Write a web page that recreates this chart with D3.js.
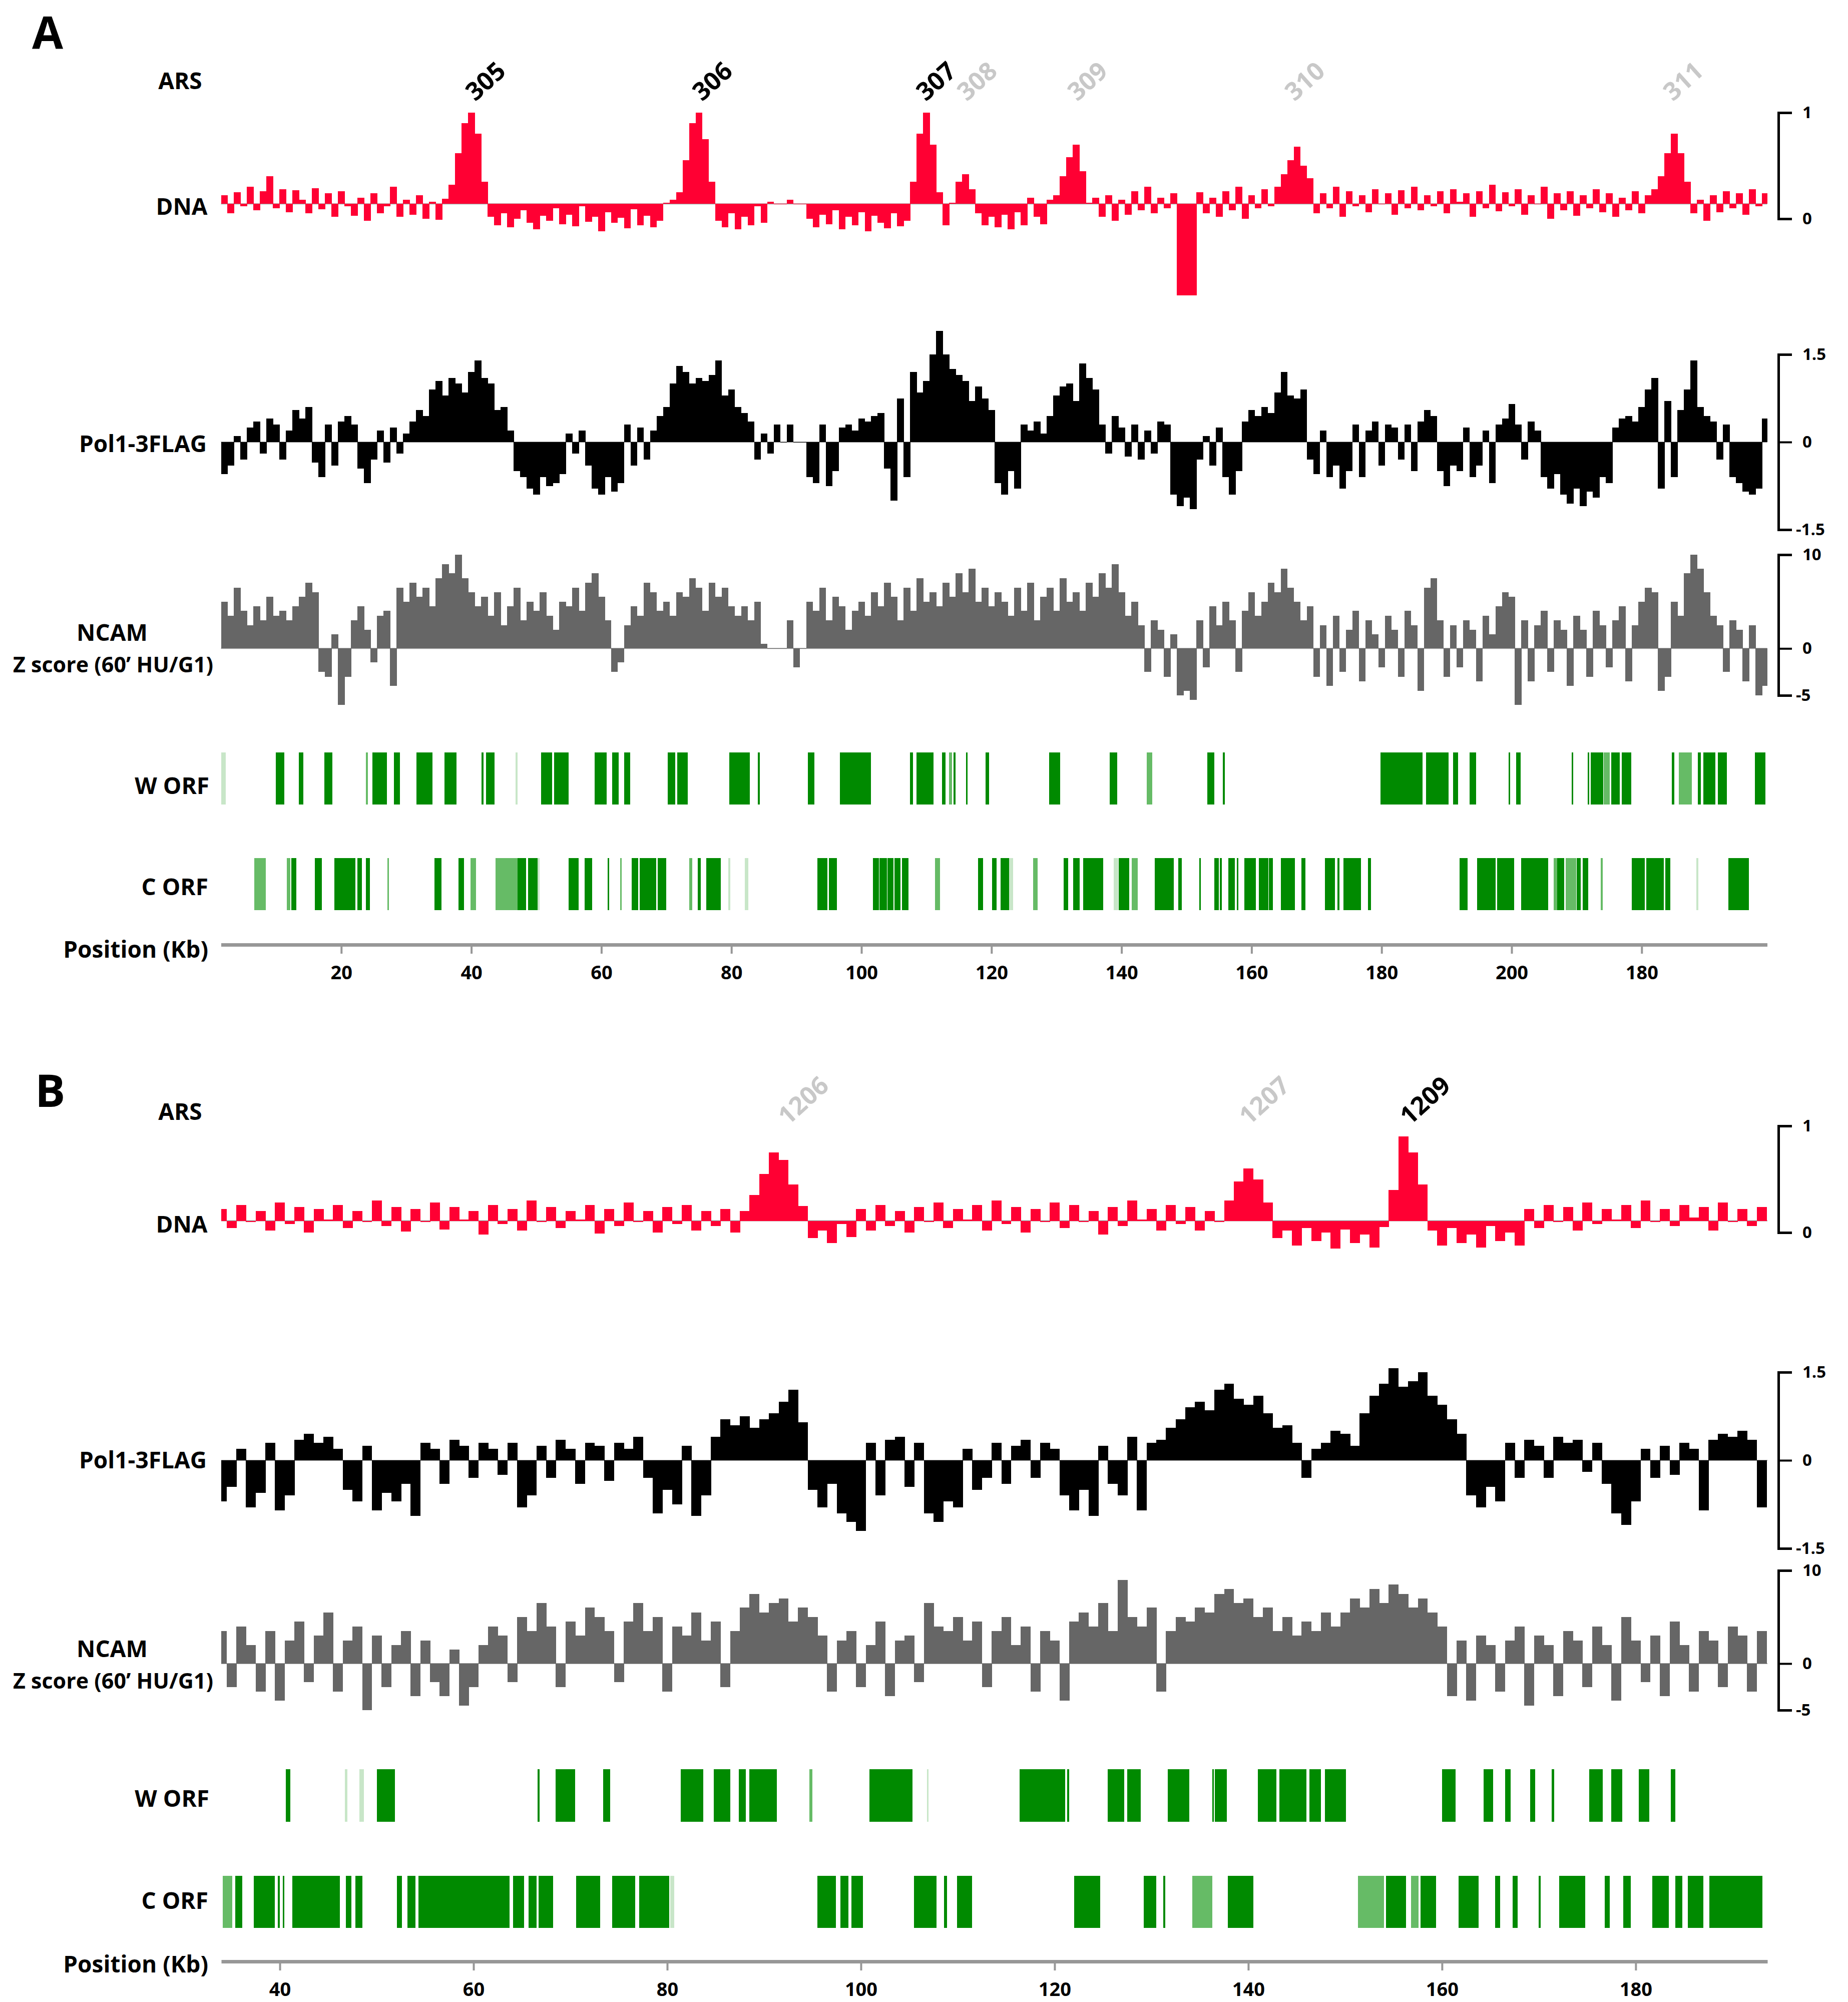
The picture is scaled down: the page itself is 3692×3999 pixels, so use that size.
<!DOCTYPE html>
<html><head><meta charset="utf-8">
<script src="https://cdn.jsdelivr.net/npm/d3@7"></script>
<style>
html,body{margin:0;padding:0;background:#fff;}
svg{display:block;}
text{font-family:"Open Sans","Noto Sans",sans-serif;font-weight:700;}
</style></head><body>
<svg id="chart" width="3692" height="3999"></svg>
<script>
// ---------------- DATA ----------------
// Panel A (chr III), 1-kb bins, first bin centred at 2 kb
const firstKbA = 2;
const dnaA = [
 0.22,0.05,0.25,0.12,0.30,0.08,0.26,0.40,0.10,0.28,
 0.06,0.27,0.18,0.05,0.29,0.09,0.24,0.02,0.26,0.12,
 0.03,0.20,-0.02,0.24,0.05,0.12,0.30,0.02,0.18,0.04,
 0.22,0.00,0.16,-0.01,0.19,0.32,0.62,0.90,1.00,0.80,
 0.35,0.02,-0.06,0.05,-0.08,0.00,0.08,-0.04,-0.10,0.03,
 -0.02,0.10,-0.05,0.04,-0.07,0.12,-0.03,0.02,-0.12,0.06,
 -0.04,0.01,-0.09,0.09,-0.06,0.03,-0.08,-0.02,0.15,0.18,
 0.25,0.55,0.90,1.00,0.75,0.35,-0.02,-0.08,0.05,-0.10,
 0.02,-0.06,0.12,-0.04,0.16,0.14,0.14,0.18,0.14,0.14,
 0.00,-0.08,0.04,-0.05,0.08,-0.10,0.02,-0.06,0.06,-0.12,
 0.03,-0.04,-0.09,0.05,-0.07,-0.02,0.35,0.80,1.00,0.70,
 0.25,-0.06,0.15,0.35,0.42,0.28,0.05,-0.06,0.02,-0.08,
 0.04,-0.10,0.06,-0.06,0.20,0.02,-0.05,0.18,0.22,0.40,
 0.58,0.70,0.45,0.15,0.20,0.02,0.22,-0.02,0.18,0.04,
 0.26,0.08,0.30,0.05,0.20,0.10,0.24,-0.72,-0.72,-0.72,
 0.25,0.05,0.20,0.02,0.26,0.08,0.30,0.00,0.22,0.10,
 0.28,0.12,0.30,0.42,0.55,0.68,0.50,0.38,0.05,0.24,
 0.10,0.30,0.02,0.26,0.12,0.22,0.06,0.28,0.14,0.24,
 0.04,0.27,0.10,0.30,0.08,0.22,0.12,0.26,0.05,0.28,
 0.16,0.24,0.02,0.26,0.10,0.32,0.07,0.25,0.12,0.28,
 0.04,0.22,0.14,0.30,0.00,0.24,0.08,0.26,0.03,0.22,
 0.10,0.28,0.06,0.24,0.02,0.20,0.08,0.26,0.05,0.22,
 0.28,0.40,0.62,0.80,0.62,0.35,0.05,0.18,-0.02,0.22,
 0.06,0.26,0.10,0.24,0.04,0.28,0.12,0.24];
const pol1A = [
 -0.55,-0.40,0.10,-0.30,0.25,0.35,-0.20,0.40,0.30,-0.30,
 0.20,0.55,0.40,0.60,-0.35,-0.60,0.30,-0.40,0.35,0.45,
 0.30,-0.45,-0.70,-0.30,0.20,-0.35,0.25,-0.20,0.15,0.35,
 0.55,0.45,0.90,1.05,0.80,1.10,1.00,0.85,1.20,1.40,
 1.10,1.00,0.55,0.60,0.20,-0.50,-0.60,-0.80,-0.90,-0.60,
 -0.75,-0.70,-0.55,0.15,-0.20,0.20,-0.40,-0.80,-0.90,-0.60,
 -0.85,-0.70,0.30,-0.40,0.25,-0.30,0.20,0.45,0.60,1.00,
 1.30,1.20,1.00,1.10,1.05,1.15,1.40,0.80,0.90,0.60,
 0.50,0.35,-0.30,0.15,-0.20,0.30,0.00,0.30,0.00,0.00,
 -0.60,-0.70,0.30,-0.75,-0.50,0.25,0.30,0.20,0.40,0.35,
 0.45,0.50,-0.45,-1.00,0.75,-0.60,1.20,0.85,1.05,1.50,
 1.90,1.50,1.25,1.15,1.05,0.70,0.95,0.75,0.55,-0.70,
 -0.90,-0.50,-0.80,0.30,0.20,0.35,0.15,0.45,0.80,0.95,
 1.00,0.70,1.35,1.10,0.90,0.30,-0.20,0.45,0.25,-0.25,
 0.30,-0.30,0.20,-0.20,0.35,0.30,-0.90,-1.10,-0.95,-1.15,
 -0.30,0.10,-0.40,0.25,-0.60,-0.90,-0.50,0.35,0.55,0.45,
 0.60,0.50,0.85,1.20,0.80,0.75,0.90,-0.30,-0.55,0.20,
 -0.60,-0.40,-0.80,-0.50,0.30,-0.60,0.20,0.35,-0.40,0.30,
 0.25,-0.30,0.30,-0.50,0.35,0.55,0.45,-0.50,-0.75,-0.40,
 -0.50,0.25,-0.60,-0.40,0.20,-0.70,0.30,0.40,0.65,0.30,
 -0.30,0.35,0.20,-0.60,-0.80,-0.55,-0.90,-1.05,-0.80,-1.10,
 -0.85,-0.95,-0.60,-0.70,0.25,0.40,0.45,0.35,0.60,0.90,
 1.10,-0.80,0.70,-0.60,0.55,0.90,1.40,0.60,0.45,0.35,
 -0.30,0.30,-0.60,-0.70,-0.85,-0.90,-0.80,0.40];
const ncamA = [
 5.0,3.5,6.5,4.0,2.5,4.5,3.0,5.5,3.5,4.0,
 3.0,4.5,5.5,7.0,6.0,-2.5,-3.0,1.5,-6.0,-3.0,
 3.0,4.5,2.0,-1.5,3.5,4.0,-4.0,6.5,5.0,7.0,
 5.5,6.5,4.5,7.5,9.0,8.0,10.0,7.5,6.0,4.5,
 5.5,3.5,6.0,2.5,4.5,6.5,3.0,5.0,4.0,6.0,
 3.5,2.0,5.0,4.5,6.5,4.0,7.0,8.0,5.5,3.0,
 -2.5,-1.5,2.5,4.5,3.5,7.0,6.0,4.0,5.0,3.5,
 6.0,5.5,7.5,6.5,4.0,7.0,5.5,6.5,4.5,3.5,
 4.5,3.0,5.0,0.5,0.0,0.0,0.0,3.0,-2.0,0.0,
 5.0,4.0,6.5,3.0,5.5,4.5,2.0,4.0,5.0,3.5,
 6.0,4.5,7.0,5.5,3.0,6.5,4.0,7.5,5.0,6.0,
 4.5,7.0,5.5,8.0,6.0,8.5,5.0,6.5,4.5,6.0,
 5.0,3.5,6.5,4.0,7.0,3.0,5.5,6.5,4.0,7.5,
 5.0,6.0,4.0,7.0,5.5,8.0,6.5,9.0,6.0,3.5,
 5.0,2.5,-2.5,3.0,2.0,-3.0,1.5,-5.0,-4.5,-5.5,
 3.0,-2.0,4.5,2.5,5.0,3.0,-2.5,4.0,6.0,3.5,
 5.0,7.0,6.0,8.5,6.5,5.0,3.0,4.5,-3.0,2.5,
 -4.0,3.5,-2.5,2.0,4.0,-3.5,3.0,1.5,-2.0,3.5,
 2.0,-3.0,4.0,2.5,-4.5,6.5,7.5,3.0,-3.0,2.5,
 -2.0,3.0,2.0,-3.5,3.5,1.5,4.5,6.0,5.5,-6.0,
 3.0,-3.5,2.5,4.0,-2.5,3.0,2.0,-4.0,3.5,2.0,
 -3.0,4.0,2.5,-2.0,3.0,4.5,-3.5,2.5,5.0,6.5,
 6.0,-4.5,-3.0,5.0,3.5,8.0,10.0,8.5,6.0,3.5,
 2.5,-2.5,3.0,2.0,-3.5,2.5,-5.0,-4.0];
// ORFs [startKb, endKb, shade(0 dark,1 medium,2 pale)]
const wOrfA = [[1.5,2.2,2],[9.9,11.2,0],[13.5,14.2,0],[17.4,18.6,0],[23.8,24.1,1],[24.8,27.0,0],[28.1,29.0,0],[31.6,34.0,0],[35.9,37.7,0],[41.6,41.9,0],[42.3,43.6,0],[46.8,47.1,2],[50.7,52.4,0],[52.7,55.0,0],[59.0,60.8,0],[61.7,62.7,0],[63.5,64.4,0],[70.2,71.4,0],[71.7,73.3,0],[79.7,82.8,0],[84.1,84.4,0],[91.8,92.8,0],[96.7,101.5,0],[107.5,107.9,0],[108.5,111.1,0],[112.4,112.9,0],[113.5,113.9,1],[114.2,114.5,0],[116.1,116.3,0],[119.1,119.6,0],[128.9,130.6,0],[138.2,139.3,0],[143.9,144.7,1],[153.2,154.3,0],[155.6,155.9,0],[179.8,186.3,0],[186.8,190.3,0],[191.0,191.8,0],[193.5,194.5,0],[199.5,199.8,0],[200.7,201.4,0],[209.2,209.35,0],[211.7,211.9,0],[212.2,214.1,0],[214.2,215.1,1],[215.3,216.6,0],[216.9,218.4,0],[224.6,225.0,0],[225.7,227.7,1],[228.6,229.1,0],[229.5,231.3,0],[231.7,233.1,0],[237.4,239.0,0]];
const cOrfA = [[6.6,8.4,1],[11.6,12.2,1],[12.3,13.1,0],[15.9,17.0,0],[18.9,22.2,0],[22.5,23.2,0],[23.8,24.4,0],[27.1,27.3,1],[34.3,35.4,0],[38.0,38.9,0],[39.9,40.7,1],[43.7,44.5,1],[44.5,47.1,1],[47.1,48.4,0],[48.7,50.2,0],[50.2,50.5,2],[55.0,56.5,0],[57.4,58.6,0],[61.0,61.15,0],[62.9,63.1,1],[64.7,65.7,0],[65.9,68.4,0],[68.7,70.0,0],[73.5,74.0,1],[74.8,75.3,0],[76.1,78.4,0],[79.5,79.8,2],[82.1,82.6,2],[93.2,94.8,0],[95.0,96.2,0],[101.8,102.7,0],[102.8,103.9,0],[104.0,104.9,0],[105.1,106.0,0],[106.2,107.2,0],[111.3,112.1,1],[117.9,118.7,0],[120.1,120.8,0],[121.4,122.7,0],[122.7,123.3,2],[126.4,127.1,1],[131.1,131.8,0],[132.6,133.6,0],[134.1,137.2,0],[138.8,139.5,2],[139.6,141.2,0],[141.6,142.5,1],[145.1,148.0,0],[148.7,149.3,0],[152.0,152.15,0],[154.3,155.0,0],[155.1,155.4,0],[156.4,157.4,0],[157.7,158.0,0],[158.9,160.7,0],[161.1,162.6,0],[162.7,163.3,0],[164.5,166.7,0],[167.7,168.3,0],[171.3,172.8,0],[173.2,173.5,0],[174.1,176.8,0],[177.9,178.4,0],[192.0,193.2,0],[194.7,197.5,0],[197.8,200.4,0],[201.5,205.6,0],[206.5,207.0,1],[207.0,208.1,0],[208.3,209.9,1],[210.0,210.6,0],[210.9,211.8,0],[213.7,214.0,1],[218.5,220.5,0],[220.7,223.4,0],[223.6,224.4,0],[228.4,228.7,2],[233.3,236.5,0]];
const arsNamesA = ["305","306","307","308","309","310","311"];
const arsKbA = [42.1,77.0,111.4,117.7,134.7,168.1,226.3];
const arsKnownA = [true,true,true,false,false,false,false];
const ticksA = [20,40,60,80,100,120,140,160,180,200,220];
const tickLabelsA = ["20","40","60","80","100","120","140","160","180","200","180"];

// Panel B (chr XII), 1-kb bins, first bin centred at 34 kb
const firstKbB = 34;
const dnaB = [
 0.22,0.04,0.26,0.10,0.20,0.02,0.28,0.08,0.24,0.00,
 0.22,0.12,0.26,0.04,0.20,0.10,0.30,0.06,0.24,0.01,
 0.22,0.10,0.28,0.03,0.24,0.12,0.20,-0.02,0.26,0.08,
 0.22,0.02,0.30,0.10,0.24,0.04,0.20,0.12,0.26,-0.01,
 0.22,0.06,0.28,0.10,0.20,0.00,0.24,0.08,0.26,0.02,
 0.20,0.06,0.22,0.00,0.20,0.35,0.55,0.75,0.68,0.45,
 0.25,-0.05,0.02,-0.10,0.08,-0.04,0.22,0.02,0.26,0.06,
 0.20,0.00,0.24,0.10,0.28,0.04,0.22,0.12,0.26,0.02,
 0.30,0.08,0.24,0.00,0.22,0.10,0.28,0.04,0.26,0.10,
 0.20,-0.02,0.24,0.06,0.30,0.12,0.22,0.02,0.26,0.08,
 0.24,0.02,0.20,0.10,0.30,0.48,0.60,0.50,0.28,-0.05,
 0.02,-0.12,0.04,-0.08,0.00,-0.15,0.03,-0.10,-0.02,-0.14,
 0.05,0.40,0.90,0.75,0.45,0.02,-0.12,0.04,-0.10,-0.02,
 -0.14,0.06,-0.08,0.00,-0.12,0.22,0.04,0.26,0.10,0.24,
 0.02,0.28,0.08,0.22,0.12,0.26,0.04,0.30,0.10,0.22,
 0.06,0.26,0.14,0.24,0.02,0.28,0.10,0.22,0.06,0.24];
const pol1B = [
 -0.70,-0.45,0.20,-0.80,-0.55,0.30,-0.85,-0.60,0.35,0.45,
 0.30,0.40,0.20,-0.50,-0.70,0.25,-0.85,-0.55,-0.70,-0.40,
 -0.95,0.30,0.20,-0.40,0.35,0.25,-0.30,0.30,0.20,-0.25,
 0.30,-0.80,-0.60,0.25,-0.30,0.35,0.20,-0.40,0.30,0.25,
 -0.35,0.30,0.20,0.40,-0.30,-0.90,-0.50,-0.75,0.25,-0.95,
 -0.60,0.40,0.70,0.60,0.75,0.55,0.70,0.80,1.00,1.20,
 0.65,-0.50,-0.80,-0.40,-0.90,-1.05,-1.20,0.30,-0.60,0.35,
 0.40,-0.45,0.30,-0.90,-1.05,-0.70,-0.80,0.20,-0.50,-0.30,
 0.30,-0.40,0.25,0.35,-0.30,0.30,0.20,-0.60,-0.85,-0.50,
 -0.95,0.25,-0.40,-0.60,0.40,-0.85,0.30,0.35,0.55,0.70,
 0.90,1.00,0.85,1.20,1.30,1.05,0.95,1.10,0.80,0.55,
 0.60,0.30,-0.30,0.20,0.30,0.50,0.45,0.25,0.80,1.10,
 1.30,1.57,1.25,1.35,1.50,1.10,0.95,0.70,0.45,-0.60,
 -0.80,-0.45,-0.70,0.30,-0.30,0.35,0.25,-0.30,0.40,0.30,
 0.35,-0.20,0.30,-0.40,-0.90,-1.10,-0.70,0.20,-0.30,0.25,
 -0.25,0.30,0.20,-0.85,0.35,0.45,0.40,0.50,0.35,-0.80];
const ncamB = [
 3.5,-2.5,4.0,2.0,-3.0,3.5,-4.0,2.5,4.5,-2.0,
 3.0,5.5,-3.0,2.5,4.0,-5.0,3.0,-2.5,2.0,3.5,
 -3.5,2.5,-2.0,-3.5,1.5,-4.5,-2.5,2.0,4.0,3.0,
 -2.0,5.0,3.5,6.5,4.0,-2.5,4.5,3.0,6.0,5.0,
 3.5,-2.0,4.5,6.5,3.5,5.0,-3.0,4.0,3.0,5.5,
 2.5,4.5,-2.5,3.5,6.0,7.5,5.5,6.5,7.0,4.5,
 6.0,5.0,3.0,-3.0,2.5,3.5,-2.5,2.0,4.5,-3.5,
 2.5,3.0,-2.0,6.5,4.0,3.5,5.0,2.5,4.5,-2.5,
 3.5,5.0,2.0,4.0,-3.0,3.5,2.5,-4.0,4.5,5.5,
 4.0,6.5,3.5,9.0,5.0,4.0,6.0,-3.0,3.5,5.0,
 4.5,6.0,5.5,7.5,8.0,6.5,7.0,5.0,6.0,3.5,
 5.0,3.0,4.5,3.5,5.5,4.0,5.5,7.0,6.0,8.0,
 6.5,8.5,7.5,6.0,7.0,5.5,4.0,-3.5,2.5,-4.0,
 3.0,2.0,-3.0,2.5,4.0,-4.5,3.0,2.0,-3.5,3.5,
 2.5,-2.5,4.0,2.0,-4.0,5.0,2.5,-2.0,3.0,-3.5,
 4.5,2.0,-3.0,3.5,2.5,-2.5,4.0,3.0,-3.0,3.5];
const wOrfB = [[40.6,41.1,0],[46.7,47.0,2],[48.2,48.7,2],[50.0,51.9,0],[66.6,66.8,0],[68.5,70.5,0],[73.4,74.1,0],[81.4,83.7,0],[84.8,86.5,0],[87.4,88.1,0],[88.5,91.3,0],[94.7,95.0,1],[100.9,105.3,0],[106.8,107.0,2],[116.4,121.1,0],[121.3,121.5,0],[125.5,127.2,0],[127.5,128.9,0],[131.7,133.9,0],[136.3,136.45,0],[136.55,137.8,0],[141.0,142.9,0],[143.2,146.0,0],[146.3,147.5,0],[147.9,150.1,0],[160.0,161.4,0],[164.3,165.3,0],[166.5,167.1,0],[169.1,169.6,0],[171.3,171.6,0],[175.2,176.6,0],[177.5,178.6,0],[180.3,181.4,0],[183.6,184.1,0]];
const cOrfB = [[34.1,35.1,1],[35.4,36.1,0],[37.3,39.5,0],[39.8,40.0,0],[40.3,40.45,0],[41.3,46.2,0],[46.8,47.4,0],[47.8,48.5,0],[52.1,52.6,0],[53.2,54.0,0],[54.3,63.7,0],[64.1,65.2,0],[65.7,66.5,0],[66.7,68.2,0],[70.6,73.1,0],[74.3,76.7,0],[77.1,80.2,0],[80.3,80.7,2],[95.5,97.4,0],[97.9,98.7,0],[99.0,100.2,0],[105.5,107.8,0],[108.6,108.9,0],[109.9,111.5,0],[122.0,124.7,0],[129.2,130.5,0],[131.2,131.4,0],[134.2,136.3,1],[137.9,140.5,0],[151.3,154.0,1],[154.2,156.3,0],[156.8,157.6,1],[157.8,159.4,0],[161.7,163.8,0],[165.5,166.0,0],[167.3,167.8,0],[170.0,170.2,0],[172.1,174.8,0],[176.8,177.3,0],[178.7,179.5,0],[181.7,183.4,0],[184.1,184.8,0],[185.4,187.0,0],[187.6,193.1,0]];
const arsNamesB = ["1206","1207","1209"];
const arsKbB = [94.0,141.6,158.2];
const arsKnownB = [false,false,true];
const ticksB = [40,60,80,100,120,140,160,180];
const tickLabelsB = ["40","60","80","100","120","140","160","180"];

// scale-bar tick values
const dnaTicks = [0,1];
const pol1Ticks = [-1.5,0,1.5];
const ncamTicks = [-5,0,10];

// ---------------- DRAWING ----------------
const svg = d3.select("#chart");
const RED = "#ff0033", BLACK = "#000000", GREY = "#666666";
const orfColors = ["#008a00", "#66bb66", "#c8e6c8"];

function bars(g, x, y, firstKb, vals, base, color) {
  const [d0, d1] = x.domain();
  const data = vals.map((v, i) => ({a: Math.max(d0, firstKb + i - 0.5), b: Math.min(d1, firstKb + i + 0.5), v}))
    .filter(d => d.b > d.a);
  g.append("line").attr("x1", x(d0)).attr("x2", x(d1)).attr("y1", y(base)).attr("y2", y(base))
    .attr("stroke", "#a0a0a0").attr("stroke-width", 2);
  g.append("g").selectAll("rect").data(data).join("rect")
    .attr("x", d => x(d.a)).attr("width", d => x(d.b) - x(d.a) + 0.6)
    .attr("y", d => Math.min(y(d.v), y(base))).attr("height", d => Math.max(1, Math.abs(y(d.v) - y(base))))
    .attr("fill", color).attr("shape-rendering", "crispEdges");
}

function bracket(g, y, ticks, xPos) {
  const ax = d3.axisRight(y).tickValues(ticks).tickSize(27).tickSizeOuter(27).tickPadding(21)
    .tickFormat(d => String(d));
  const a = g.append("g").attr("transform", `translate(${xPos},0)`).call(ax);
  a.attr("font-size", 33).attr("font-family", '"Open Sans",sans-serif');
  a.select(".domain").attr("stroke", "#000").attr("stroke-width", 5).attr("fill", "none");
  a.selectAll(".tick line").attr("stroke", "#000").attr("stroke-width", 4);
  a.selectAll(".tick text").attr("fill", "#000").attr("font-size", 33)
    .attr("x", d => d < 0 ? 35 : 48);
}

function xAxis(g, x, ticks, labels, yPos) {
  const ax = d3.axisBottom(x).tickValues(ticks).tickFormat(d => labels[ticks.indexOf(d)])
    .tickSize(18).tickSizeOuter(0).tickPadding(24);
  const a = g.append("g").attr("transform", `translate(0,${yPos})`).call(ax);
  a.attr("font-size", 38).attr("font-family", '"Open Sans",sans-serif');
  a.select(".domain").attr("stroke", "#979797").attr("stroke-width", 7);
  a.selectAll(".tick line").attr("stroke", "#979797").attr("stroke-width", 4);
  a.selectAll(".tick text").attr("fill", "#000").attr("font-size", 38);
}

function orfs(g, x, list, y0, y1) {
  g.append("g").selectAll("rect").data(list).join("rect")
    .attr("x", d => x(d[0])).attr("width", d => Math.max(3, x(d[1]) - x(d[0])))
    .attr("y", y0).attr("height", y1 - y0)
    .attr("fill", d => orfColors[d[2]]).attr("shape-rendering", "crispEdges");
}

function label(g, txt, x, y, anchor, size) {
  g.append("text").attr("x", x).attr("y", y).attr("text-anchor", anchor)
    .attr("dominant-baseline", "central").attr("font-size", size || 46).attr("fill", "#000").text(txt);
}

function ars(g, x, names, kbs, known, yc) {
  g.append("g").selectAll("text").data(names).join("text")
    .attr("transform", (d, i) => `translate(${x(kbs[i])},${yc}) rotate(-42)`)
    .attr("text-anchor", "middle").attr("dominant-baseline", "central")
    .attr("font-size", 50).attr("fill", (d, i) => known[i] ? "#000" : "#c8c8c8").text(d => d);
}

function panel(p) {
  const g = svg.append("g");
  g.append("text").attr("x", p.letterX).attr("y", p.letterY).attr("font-size", 90).attr("fill", "#000").text(p.letter);
  label(g, "ARS", 360, p.arsLabelY, "middle");
  label(g, "DNA", 363, p.dnaLabelY, "middle");
  label(g, "Pol1-3FLAG", 413, p.polLabelY, "end");
  label(g, "NCAM", 224, p.ncamLabelY, "middle");
  label(g, "Z score (60’ HU/G1)", 226, p.zLabelY, "middle", 43);
  label(g, "W ORF", 418, p.wLabelY, "end");
  label(g, "C ORF", 416, p.cLabelY, "end");
  label(g, "Position (Kb)", 416, p.posLabelY, "end");

  ars(g, p.x, p.arsNames, p.arsKb, p.arsKnown, p.arsY);
  bars(g, p.x, p.yDna, p.firstKb, p.dna, p.dnaBase, RED);
  bars(g, p.x, p.yPol, p.firstKb, p.pol, 0, BLACK);
  bars(g, p.x, p.yNcam, p.firstKb, p.ncam, 0, GREY);
  bracket(g, p.yDna, dnaTicks, 3553);
  bracket(g, p.yPol, pol1Ticks, 3553);
  bracket(g, p.yNcam, ncamTicks, 3553);
  orfs(g, p.x, p.wOrf, p.wY[0], p.wY[1]);
  orfs(g, p.x, p.cOrf, p.cY[0], p.cY[1]);
  xAxis(g, p.x, p.ticks, p.tickLabels, p.axisY);
}

panel({
  letter: "A", letterX: 64, letterY: 97,
  arsLabelY: 160, dnaLabelY: 411, polLabelY: 885, ncamLabelY: 1262, zLabelY: 1326,
  wLabelY: 1568, cLabelY: 1770, posLabelY: 1895,
  x: d3.scaleLinear().domain([1.5, 239.3]).range([441.5, 3530.5]),
  yDna: d3.scaleLinear().domain([0, 1]).range([437, 225]),
  yPol: d3.scaleLinear().domain([-1.5, 1.5]).range([1058, 708]),
  yNcam: d3.scaleLinear().domain([-5, 10]).range([1389, 1108]),
  dnaBase: 0.14, firstKb: firstKbA, dna: dnaA, pol: pol1A, ncam: ncamA,
  arsNames: arsNamesA, arsKb: arsKbA, arsKnown: arsKnownA, arsY: 161,
  wOrf: wOrfA, cOrf: cOrfA, wY: [1503, 1607], cY: [1714, 1818],
  ticks: ticksA, tickLabels: tickLabelsA, axisY: 1887
});

panel({
  letter: "B", letterX: 70, letterY: 2211,
  arsLabelY: 2219, dnaLabelY: 2444, polLabelY: 2915, ncamLabelY: 3292, zLabelY: 3356,
  wLabelY: 3591, cLabelY: 3795, posLabelY: 3922,
  x: d3.scaleLinear().domain([33.95, 193.6]).range([442, 3531]),
  yDna: d3.scaleLinear().domain([0, 1]).range([2462, 2249]),
  yPol: d3.scaleLinear().domain([-1.5, 1.5]).range([3093, 2741]),
  yNcam: d3.scaleLinear().domain([-5, 10]).range([3416, 3137]),
  dnaBase: 0.11, firstKb: firstKbB, dna: dnaB, pol: pol1B, ncam: ncamB,
  arsNames: arsNamesB, arsKb: arsKbB, arsKnown: arsKnownB, arsY: 2197,
  wOrf: wOrfB, cOrf: cOrfB, wY: [3534, 3639], cY: [3747, 3851],
  ticks: ticksB, tickLabels: tickLabelsB, axisY: 3918
});
</script>
</body></html>
